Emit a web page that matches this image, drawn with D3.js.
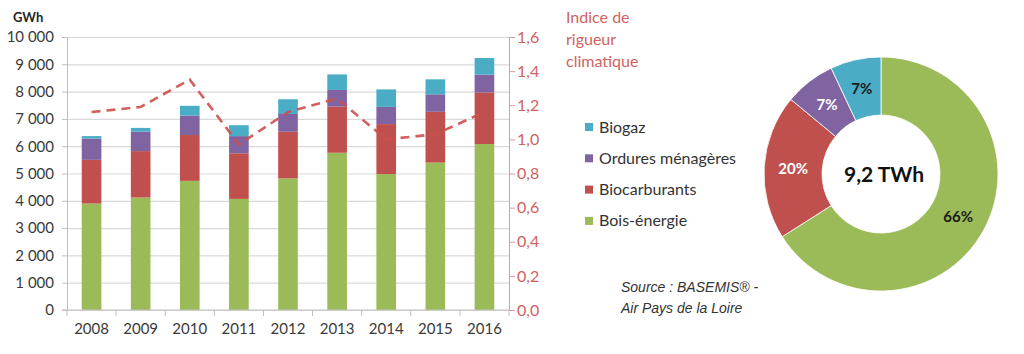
<!DOCTYPE html>
<html>
<head>
<meta charset="utf-8">
<script src="https://cdn.jsdelivr.net/npm/d3@7"></script>
<style>
  body { margin: 0; background: #fff; }
  svg { display: block; font-family: Lato, sans-serif; }
</style>
</head>
<body>
<div id="chart"></div>
<script>
// --- Data ---
const years = ['2008', '2009', '2010', '2011', '2012', '2013', '2014', '2015', '2016'];
const boisEnergie   = [3900, 4120, 4730, 4070, 4820, 5760, 4980, 5400, 6080];
const biocarburants = [1600, 1700, 1680, 1670, 1710, 1690, 1830, 1860, 1890];
const ordures       = [780, 710, 710, 630, 650, 610, 630, 640, 650];
const biogaz        = [90, 140, 360, 400, 540, 570, 640, 550, 610];
const rigueur       = [1.16, 1.19, 1.35, 0.97, 1.16, 1.24, 1.00, 1.03, 1.16];

const leftTicks = [0, 1000, 2000, 3000, 4000, 5000, 6000, 7000, 8000, 9000, 10000];
const rightTicks = [0, 0.2, 0.4, 0.6, 0.8, 1.0, 1.2, 1.4, 1.6];

const seriesKeys = ['bois', 'biocarb', 'ordures', 'biogaz'];
const seriesNames = ['Bois-énergie', 'Biocarburants', 'Ordures ménagères', 'Biogaz'];
const seriesColors = ['#9bbb59', '#c0504d', '#8064a2', '#4bacc6'];

// donut (2016 shares)
const donutValues = [66, 20, 7, 7];
const donutLabelColors = ['#1a1a1a', '#ffffff', '#ffffff', '#1a1a1a'];
const donutTotal = '9,2 TWh';

const W = 1024, H = 354;
const svg = d3.select('#chart').append('svg').attr('width', W).attr('height', H);

const margin = { top: 37, left: 67 };
const width = 442, height = 273;
const g = svg.append('g').attr('transform', `translate(${margin.left},${margin.top})`);

const x = d3.scaleBand().domain(years).range([0, width]).paddingInner(0.6).paddingOuter(0.3);
const y = d3.scaleLinear().domain([0, 10000]).range([height, 0]);
const y2 = d3.scaleLinear().domain([0, 1.6]).range([height, 0]);

const gridColor = '#d9d9d9';
const textColor = '#3a3a3a';
const redText = '#d0625f';

// grid lines
g.append('g')
  .call(d3.axisLeft(y).tickValues(leftTicks).tickSize(-width).tickFormat(''))
  .call(s => s.select('.domain').remove())
  .selectAll('line').attr('stroke', gridColor).attr('stroke-width', 1.2);

// bars
const table = years.map((yr, i) => ({
  year: yr, bois: boisEnergie[i], biocarb: biocarburants[i], ordures: ordures[i], biogaz: biogaz[i]
}));
const stack = d3.stack().keys(seriesKeys)(table);
const color = d3.scaleOrdinal().domain(seriesKeys).range(seriesColors);

g.append('g').selectAll('g').data(stack).enter().append('g')
  .attr('fill', d => color(d.key))
  .selectAll('rect').data(d => d).enter().append('rect')
  .attr('x', d => x(d.data.year))
  .attr('y', d => y(d[1]))
  .attr('height', d => y(d[0]) - y(d[1]))
  .attr('width', x.bandwidth());

// left axis
const fmtLeft = d => d3.format(',')(d).replace(/,/g, ' ');
const leftAxis = g.append('g')
  .call(d3.axisLeft(y).tickValues(leftTicks).tickSize(5).tickPadding(8).tickFormat(fmtLeft));
leftAxis.select('.domain').attr('stroke', '#bfbfbf');
leftAxis.selectAll('.tick line').attr('stroke', '#bfbfbf');
leftAxis.selectAll('text').attr('fill', textColor).style('font-size', '15px').style('font-family', 'Lato');

// x axis
const xAxis = g.append('g').attr('transform', `translate(0,${height})`)
  .call(d3.axisBottom(x).tickSize(0).tickPadding(13));
xAxis.select('.domain').attr('stroke', '#bfbfbf').attr('d', `M-5,0H${width}`);
xAxis.selectAll('text').attr('fill', textColor).style('font-size', '15px').style('font-family', 'Lato');
// ticks between categories
const step = x.step();
g.append('g').selectAll('line').data(d3.range(years.length + 1)).enter().append('line')
  .attr('x1', i => i * step).attr('x2', i => i * step)
  .attr('y1', height).attr('y2', height + 6)
  .attr('stroke', '#bfbfbf');

// right axis
const fmtRight = d => d3.format('.1f')(d).replace('.', ',');
const rightAxis = g.append('g').attr('transform', `translate(${width},0)`)
  .call(d3.axisRight(y2).tickValues(rightTicks).tickSize(6).tickPadding(2).tickFormat(fmtRight));
rightAxis.select('.domain').attr('stroke', '#e09a98');
rightAxis.selectAll('.tick line').attr('stroke', '#e09a98');
rightAxis.selectAll('text').attr('fill', redText).style('font-size', '16px').style('font-family', 'Lato');

// dashed line
const line = d3.line()
  .x((d, i) => x(years[i]) + x.bandwidth() / 2)
  .y(d => y2(d));
g.append('path').datum(rigueur)
  .attr('d', line)
  .attr('fill', 'none')
  .attr('stroke', '#cc4f4e')
  .attr('stroke-width', 2.6)
  .attr('stroke-dasharray', '9,6')
  .attr('opacity', 0.9);

// unit label
svg.append('text').attr('x', 13).attr('y', 22)
  .style('font-size', '13px').style('font-weight', 'bold').attr('fill', '#262626')
  .text('GWh');

// right axis title
['Indice de', 'rigueur', 'climatique'].forEach((t, i) => {
  svg.append('text').attr('x', 566).attr('y', 23 + i * 22)
    .style('font-size', '16px').attr('fill', redText).text(t);
});

// legend (top to bottom: Biogaz, Ordures, Biocarburants, Bois)
const legendOrder = [3, 2, 1, 0];
const legend = svg.append('g').attr('transform', 'translate(585,127)');
legendOrder.forEach((k, i) => {
  const row = legend.append('g').attr('transform', `translate(0,${i * 31.3})`);
  row.append('rect').attr('x', 0).attr('y', -4).attr('width', 8).attr('height', 8).attr('fill', seriesColors[k]);
  row.append('text').attr('x', 14).attr('y', 5.5)
    .style('font-size', '16px').attr('fill', '#333').text(seriesNames[k]);
});

// source
['Source : BASEMIS® -', 'Air Pays de la Loire'].forEach((t, i) => {
  svg.append('text').attr('x', 621).attr('y', 292 + i * 21)
    .style('font-family', '"Liberation Sans", Arial, sans-serif')
    .style('font-style', 'italic').style('font-size', '14px').attr('fill', '#333')
    .text(t);
});

// donut
const cx = 881, cy = 174, rOuter = 117, rInner = 59;
const pie = d3.pie().sort(null).value(d => d)(donutValues);
const arc = d3.arc().innerRadius(rInner).outerRadius(rOuter);
const donut = svg.append('g').attr('transform', `translate(${cx},${cy})`);
donut.selectAll('path').data(pie).enter().append('path')
  .attr('d', arc)
  .attr('fill', (d, i) => seriesColors[i])
  .attr('stroke', '#fff').attr('stroke-width', 0.8);
donut.selectAll('text.pct').data(pie).enter().append('text')
  .attr('class', 'pct')
  .attr('transform', d => `translate(${arc.centroid(d)})`)
  .attr('text-anchor', 'middle').attr('dy', '0.36em')
  .style('font-size', '15px').style('font-weight', 'bold')
  .attr('fill', (d, i) => donutLabelColors[i])
  .text(d => d.data + '%');
donut.append('text').attr('text-anchor', 'middle').attr('dy', '0.36em').attr('x', 3)
  .style('font-size', '21px').style('font-weight', 'bold').attr('fill', '#111')
  .text(donutTotal);
</script>
</body>
</html>
